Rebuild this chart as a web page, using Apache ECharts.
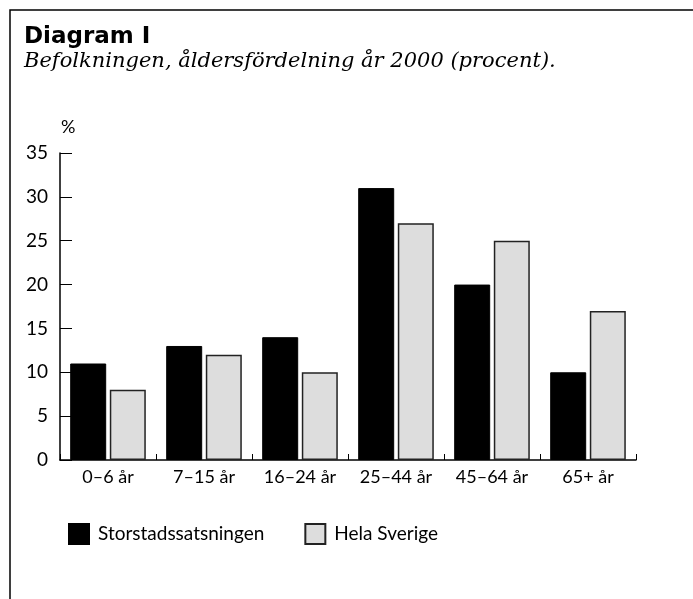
<!DOCTYPE html>
<html>
<head>
<meta charset="utf-8">
<script src="https://cdn.jsdelivr.net/npm/echarts@6/dist/echarts.min.js"></script>
<style>html,body{margin:0;padding:0;background:#fff}#c{width:693px;height:599px}</style>
</head>
<body>
<div id="c"></div>
<script>
const categories = ['0–6 år', '7–15 år', '16–24 år', '25–44 år', '45–64 år', '65+ år'];
const storstad = [11, 13, 14, 31, 20, 10];
const helaSverige = [8, 12, 10, 27, 25, 17];
const yTicks = [0, 5, 10, 15, 20, 25, 30, 35];

const chart = echarts.init(document.getElementById('c'), null, {renderer: 'canvas'});
const sans = 'Lato, "Open Sans", sans-serif';
chart.setOption({
  animation: false,
  backgroundColor: '#fff',
  graphic: [
    {type: 'rect', shape: {x: 10, y: 10, width: 700, height: 600}, style: {fill: 'none', stroke: '#000', lineWidth: 1.5}, silent: true},
    {type: 'text', left: 24, top: 26, style: {text: 'Diagram I', font: 'bold 23px "DejaVu Sans", sans-serif', fill: '#000'}},
    {type: 'text', left: 24, top: 51, style: {text: 'Befolkningen, åldersfördelning år 2000 (procent).', font: 'italic 21px "DejaVu Serif", serif', fill: '#000'}},
    {type: 'text', left: 61, top: 118, style: {text: '%', font: '18px ' + sans, fill: '#000'}}
  ],
  grid: {left: 60, right: 57, top: 153, bottom: 139, containLabel: false},
  legend: {
    left: 63, top: 518, itemWidth: 20, itemHeight: 20, itemGap: 40,
    icon: 'rect',
    textStyle: {fontFamily: sans, fontSize: 19, color: '#000', padding: [0, 0, 0, 4]},
    data: ['Storstadssatsningen', 'Hela Sverige']
  },
  xAxis: {
    type: 'category', data: categories,
    axisLine: {lineStyle: {color: '#000', width: 1.5}},
    axisTick: {show: true, inside: true, length: 6, interval: 0, lineStyle: {color: '#000'}},
    axisLabel: {color: '#000', fontFamily: sans, fontSize: 18, margin: 8, interval: 0, hideOverlap: false}
  },
  yAxis: {
    type: 'value', min: 0, max: 35, interval: 5,
    axisLine: {show: true, lineStyle: {color: '#000', width: 1.5}},
    axisTick: {show: true, inside: true, length: 12, lineStyle: {color: '#000'}},
    splitLine: {show: false},
    axisLabel: {color: '#000', fontFamily: sans, fontSize: 19, margin: 12,
      formatter: v => yTicks.includes(v) ? String(v) : ''}
  },
  series: [
    {name: 'Storstadssatsningen', type: 'bar', data: storstad, barWidth: 36, barGap: '10%',
     itemStyle: {color: '#000', borderColor: '#000', borderWidth: 1}},
    {name: 'Hela Sverige', type: 'bar', data: helaSverige, barWidth: 36,
     itemStyle: {color: '#dddddd', borderColor: '#222', borderWidth: 1.5}}
  ]
});
</script>
</body>
</html>
